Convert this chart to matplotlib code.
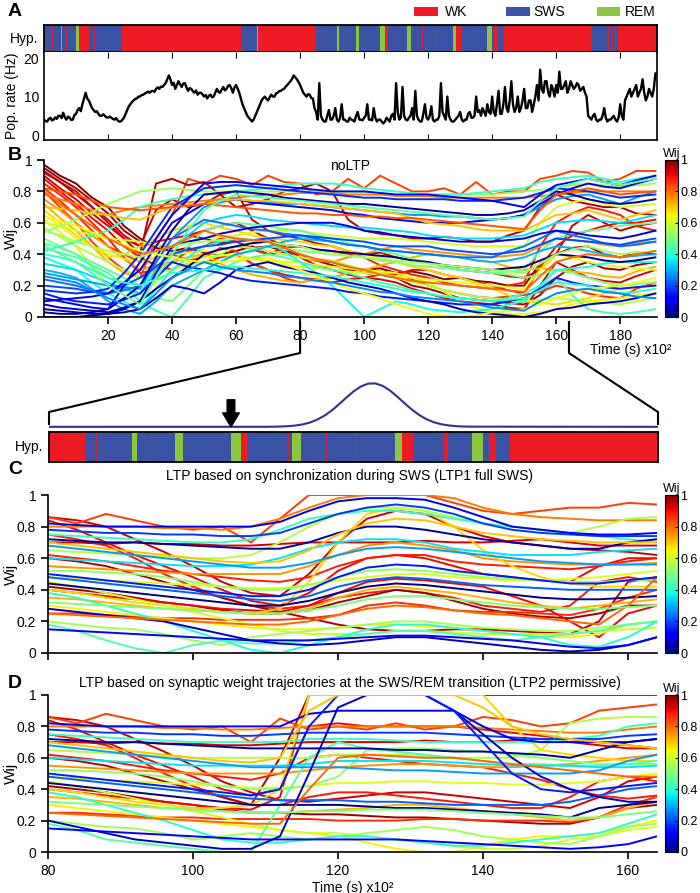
import numpy as np
import matplotlib
matplotlib.use('Agg')
import matplotlib.pyplot as plt
from matplotlib.lines import Line2D
from matplotlib.patches import Rectangle
from matplotlib import cm, colors

plt.rcParams['font.family'] = ['Liberation Sans', 'DejaVu Sans']
plt.rcParams['axes.linewidth'] = 1.2

# ---------------- data ----------------
stage_names = ['WK', 'SWS', 'REM']
stage_colors = ['#ed1c24', '#3a53a4', '#8cc63f']

hyp_start = [0, 10, 11, 14, 24.3, 61.5, 66.5, 67, 85, 91.4, 92.1, 97.4, 98.5, 105.1, 106.5,
             107.5, 113.5, 114.7, 127.7, 128.7, 130.2, 134.5, 135, 138.3, 139.9, 140.7,
             141.7, 143.6, 171, 179.4, 191]
hyp_end = [10, 11, 14, 24.3, 61.5, 66.5, 67, 85, 91.4, 92.1, 97.4, 98.5, 105.1, 106.5, 107.5,
           113.5, 114.7, 127.7, 128.7, 130.2, 134.5, 135, 138.3, 139.9, 140.7, 141.7,
           143.6, 171, 179.4, 191, 191.5]
hyp_state = ['SWS', 'REM', 'WK', 'SWS', 'WK', 'SWS', 'REM', 'WK', 'SWS', 'REM', 'SWS', 'REM',
             'SWS', 'REM', 'WK', 'SWS', 'REM', 'SWS', 'REM', 'WK', 'SWS', 'WK', 'SWS', 'REM',
             'SWS', 'WK', 'SWS', 'WK', 'SWS', 'WK', 'SWS']
mark_time = [2.5, 5.3, 7.0, 15.7, 86.5, 94.0, 112.9, 116.4, 118.2, 122.2, 176.3, 177.5, 178.3]
mark_state = ['WK', 'REM', 'WK', 'WK', 'WK', 'WK', 'WK', 'WK', 'WK', 'WK', 'WK', 'WK', 'WK']

# population rate, sampled every 0.5 (x10^2 s) from 0 to 191
pop_rate = [4, 3.6, 3.5, 4.2, 4.5, 3.8, 4, 4.6, 4.2, 5, 5, 4.4, 5.8, 4.6, 4, 4.8, 4.5, 3.9, 4, 5.2,
            5.5, 6.5, 7, 6.2, 8, 9.5, 11, 9.5, 9, 8, 7, 6.5, 6, 6.2, 5.5, 5, 5, 5.4, 5, 4.6,
            4.5, 4.8, 4.5, 4.2, 4, 4.4, 3.8, 3.5, 3.5, 4, 4.5, 5.5, 6.5, 7.5, 8, 8.6, 9, 9.4, 9.5, 10,
            10, 10.4, 10.5, 10.8, 11, 11.3, 11, 11.4, 11.5, 11.2, 12, 12.4, 12, 12.6, 12.5, 13, 13.5, 14.5, 15.5, 14.5,
            13, 13.6, 12, 13, 14, 13.2, 12.5, 13.4, 13.5, 12.4, 11.5, 12.2, 12, 11.4, 11, 11.6, 10.5, 11, 11, 10.6,
            10, 10.4, 9.5, 10.2, 10.5, 9.8, 10, 11, 12, 11.2, 11, 11.8, 12.5, 11.6, 12, 12.8, 13, 12.2, 11, 12.4,
            13, 12, 11, 9.5, 8, 7, 6, 5, 4.5, 4, 3.5, 4, 5, 6, 7, 8, 9, 9.6, 10, 9.4,
            9, 9.8, 10.5, 10, 10, 10.8, 11, 11.4, 11.5, 11.8, 12, 12.6, 13, 13.5, 14, 14.6, 15.5, 15, 14.5, 13.8,
            13, 12, 11, 10.5, 10, 10.6, 10.5, 9.6, 9.5, 7, 6, 4, 13.5, 5, 4, 3.5, 3.5, 5, 6.5, 4,
            4, 5, 7, 4, 3.5, 4.5, 8, 4, 4, 3.5, 3.5, 4.5, 4, 3.8, 3.5, 5, 6, 4, 4, 3.8,
            4.5, 5, 8, 4, 4, 3.8, 7, 4.5, 3.5, 4, 4, 3.5, 3, 3.5, 4.5, 4, 3.5, 5, 5.5, 4,
            13.5, 6, 4, 4.5, 12.5, 5, 4, 3.8, 4.5, 5, 7, 4, 11.5, 5, 4, 3.5, 3.5, 5.5, 8, 4.5,
            4, 5, 7.5, 4, 3.5, 4, 4, 5, 13.5, 6, 5, 4, 10, 5, 4, 3.5, 3.5, 4, 4.5, 5,
            6, 4, 3.5, 4, 4, 5.5, 6, 4.5, 4.5, 5, 10, 6, 6.5, 5, 7, 6, 5, 8, 6, 5.5,
            10, 6, 5, 8, 11.5, 5.5, 5.5, 8, 12.5, 7, 6, 9, 14, 8, 6, 7, 10, 6, 7, 9,
            12, 7, 7, 9, 9, 6, 8, 10, 13, 9, 17, 12, 11, 14, 14, 11, 10, 13, 12, 10,
            13, 11, 16.5, 12, 12, 13, 14, 11, 12, 14, 13, 12, 12.5, 13.5, 13, 11.5, 12, 12.5, 11, 10,
            5, 4.5, 4, 5, 5.5, 4, 3.5, 4, 4, 5, 7, 4.5, 3.5, 4, 4, 4.5, 5, 4, 3.5, 4.5,
            8, 5, 4, 9, 10, 11, 12, 10, 11, 12, 13, 10, 11, 12, 14.5, 11, 9, 10, 12, 11,
            10, 12, 16]
pop_time = np.arange(len(pop_rate)) * 0.5

# panel B: noLTP synaptic weights (percent), sampled every 5 (last at 191)
b_time = list(range(0, 186, 5)) + [191]
b_color = [1.0, 0.97, 0.93, 0.9, 0.88, 0.86, 0.84, 0.95, 0.92, 0.78, 0.75, 0.72, 0.68, 0.65,
           0.62, 0.6, 0.57, 0.54, 0.5, 0.47, 0.44, 0.42, 0.38, 0.34, 0.3, 0.28, 0.24, 0.2,
           0.17, 0.15, 0.1, 0.08, 0.05, 0.03, 0.0, 0.12, 0.55, 0.7, 0.4, 0.82, 0.64, 0.46,
           0.26, 0.8]
b_wij = [
    [97, 90, 85, 76, 70, 58, 50, 44, 42, 44, 41, 40, 42, 45, 40, 41, 38, 36, 35, 32, 30, 31, 28, 29, 27, 24, 25, 23, 22, 20, 20, 34, 40, 44, 45, 40, 38, 41, 40],
    [95, 88, 82, 74, 66, 55, 48, 46, 44, 52, 50, 47, 48, 44, 45, 42, 40, 36, 33, 30, 28, 27, 25, 20, 18, 15, 12, 11, 10, 9, 8, 14, 25, 32, 35, 31, 30, 33, 35],
    [92, 86, 80, 70, 62, 52, 45, 68, 75, 70, 72, 78, 80, 62, 55, 52, 50, 47, 45, 42, 40, 41, 38, 36, 35, 32, 30, 29, 28, 26, 25, 30, 40, 58, 65, 60, 55, 58, 60],
    [88, 80, 72, 63, 55, 45, 38, 33, 30, 34, 35, 38, 40, 34, 30, 27, 25, 24, 22, 24, 25, 27, 27, 30, 30, 27, 25, 22, 20, 17, 15, 32, 45, 52, 55, 58, 60, 60, 62],
    [85, 78, 70, 60, 50, 38, 28, 30, 35, 42, 45, 50, 48, 43, 40, 44, 45, 43, 42, 40, 38, 33, 30, 27, 25, 22, 20, 19, 18, 20, 22, 45, 60, 66, 70, 68, 65, 58, 55],
    [82, 74, 65, 55, 45, 40, 35, 38, 40, 36, 38, 44, 42, 34, 30, 25, 22, 24, 25, 28, 30, 29, 28, 24, 20, 17, 15, 13, 12, 13, 14, 16, 20, 18, 15, 13, 12, 18, 22],
    [80, 70, 60, 48, 38, 30, 25, 50, 65, 88, 85, 90, 88, 84, 90, 86, 85, 78, 80, 88, 82, 90, 85, 80, 80, 82, 78, 86, 78, 80, 80, 88, 90, 93, 92, 86, 88, 93, 93],
    [93, 86, 78, 70, 60, 50, 40, 85, 88, 84, 86, 78, 70, 72, 75, 80, 82, 85, 80, 62, 55, 53, 52, 50, 50, 51, 50, 48, 48, 52, 55, 70, 78, 74, 72, 70, 70, 66, 65],
    [90, 82, 75, 66, 58, 50, 45, 48, 50, 52, 55, 58, 60, 55, 50, 45, 38, 33, 30, 27, 25, 24, 22, 18, 15, 12, 10, 9, 8, 6, 5, 20, 35, 30, 25, 23, 22, 26, 30],
    [78, 75, 72, 68, 65, 68, 70, 71, 72, 73, 74, 75, 76, 77, 78, 78, 79, 79, 79, 78, 78, 78, 77, 77, 77, 76, 76, 76, 76, 76, 76, 77, 78, 79, 80, 80, 80, 80, 80],
    [75, 68, 60, 52, 45, 37, 30, 33, 35, 38, 40, 43, 45, 44, 42, 40, 38, 36, 35, 38, 40, 43, 45, 43, 42, 41, 40, 39, 38, 39, 40, 45, 50, 49, 48, 46, 45, 47, 48],
    [72, 63, 55, 45, 35, 28, 25, 30, 35, 38, 40, 34, 30, 27, 25, 23, 22, 24, 25, 28, 30, 33, 35, 38, 40, 39, 38, 36, 35, 32, 30, 31, 30, 29, 28, 26, 25, 29, 32],
    [68, 60, 52, 45, 38, 40, 45, 50, 55, 58, 60, 57, 55, 52, 50, 49, 48, 46, 45, 42, 40, 38, 35, 32, 30, 27, 25, 22, 18, 14, 10, 9, 8, 10, 12, 15, 18, 19, 20],
    [65, 58, 50, 45, 40, 37, 35, 38, 40, 41, 42, 40, 38, 37, 36, 35, 35, 33, 32, 31, 30, 29, 28, 25, 22, 16, 10, 6, 3, 2, 2, 3, 5, 8, 10, 11, 12, 14, 15],
    [62, 54, 45, 32, 20, 17, 15, 22, 30, 34, 38, 39, 40, 37, 35, 33, 32, 31, 30, 29, 28, 27, 26, 25, 24, 23, 22, 21, 20, 19, 18, 30, 40, 38, 35, 33, 32, 31, 30],
    [60, 58, 55, 52, 50, 49, 48, 46, 45, 48, 50, 51, 52, 54, 55, 55, 55, 53, 52, 51, 50, 50, 50, 49, 48, 47, 46, 45, 45, 45, 45, 60, 70, 73, 75, 72, 70, 71, 72],
    [57, 51, 45, 40, 35, 30, 25, 28, 30, 33, 35, 40, 45, 44, 42, 40, 38, 37, 36, 33, 30, 28, 25, 22, 20, 17, 15, 13, 12, 11, 10, 11, 12, 11, 10, 9, 8, 10, 12],
    [54, 58, 62, 67, 72, 76, 80, 81, 82, 81, 80, 80, 80, 80, 80, 80, 80, 80, 80, 80, 79, 79, 78, 78, 78, 78, 78, 78, 78, 79, 80, 81, 82, 84, 85, 84, 83, 84, 85],
    [50, 45, 40, 32, 25, 20, 15, 12, 10, 20, 30, 35, 40, 43, 45, 44, 42, 41, 40, 39, 38, 36, 35, 33, 32, 31, 30, 29, 28, 27, 25, 27, 30, 28, 25, 22, 20, 21, 22],
    [47, 44, 40, 35, 30, 25, 20, 28, 35, 45, 55, 58, 60, 59, 58, 56, 55, 52, 50, 47, 45, 42, 40, 37, 35, 32, 30, 29, 28, 29, 30, 42, 50, 53, 55, 56, 58, 59, 60],
    [44, 41, 38, 33, 28, 20, 10, 4, 0, 12, 25, 30, 35, 38, 40, 38, 35, 32, 30, 28, 25, 22, 20, 17, 15, 13, 12, 11, 10, 12, 15, 20, 25, 14, 5, 3, 2, 3, 5],
    [42, 45, 48, 52, 55, 62, 70, 73, 75, 77, 78, 79, 80, 81, 82, 84, 85, 85, 85, 84, 82, 81, 80, 79, 78, 78, 78, 79, 80, 81, 82, 86, 88, 89, 90, 88, 86, 88, 90],
    [38, 34, 30, 22, 15, 10, 5, 18, 30, 38, 45, 48, 50, 49, 48, 42, 35, 28, 20, 10, 0, 5, 10, 8, 5, 4, 3, 4, 5, 8, 10, 20, 30, 31, 32, 34, 35, 35, 35],
    [34, 32, 30, 26, 22, 18, 15, 30, 45, 52, 60, 63, 65, 64, 62, 61, 60, 59, 58, 57, 57, 56, 55, 54, 52, 51, 50, 50, 50, 51, 52, 56, 60, 61, 62, 61, 60, 62, 65],
    [30, 28, 25, 18, 10, 5, 2, 10, 20, 25, 30, 35, 40, 42, 45, 48, 50, 49, 48, 46, 45, 43, 42, 41, 40, 39, 38, 36, 35, 36, 38, 42, 45, 44, 42, 40, 38, 39, 40],
    [28, 26, 24, 22, 20, 19, 18, 35, 50, 60, 70, 73, 75, 74, 73, 72, 72, 71, 70, 69, 68, 67, 66, 65, 65, 64, 64, 63, 62, 63, 65, 70, 75, 77, 78, 75, 72, 76, 80],
    [24, 22, 20, 17, 15, 17, 20, 35, 50, 56, 62, 60, 58, 56, 55, 53, 52, 50, 48, 46, 45, 43, 42, 41, 40, 39, 38, 38, 38, 42, 45, 50, 55, 52, 50, 47, 45, 46, 48],
    [20, 19, 18, 16, 15, 20, 25, 32, 40, 43, 45, 46, 48, 49, 50, 51, 52, 51, 50, 49, 48, 46, 45, 45, 45, 43, 42, 41, 40, 41, 42, 46, 50, 49, 48, 47, 46, 48, 50],
    [17, 16, 15, 16, 18, 28, 40, 55, 70, 76, 82, 83, 84, 83, 82, 81, 80, 79, 78, 77, 76, 76, 75, 75, 75, 75, 74, 74, 74, 75, 76, 79, 82, 81, 80, 78, 76, 77, 78],
    [15, 12, 10, 9, 8, 11, 15, 25, 35, 32, 30, 28, 25, 23, 22, 21, 20, 19, 18, 16, 15, 13, 12, 11, 10, 9, 8, 8, 8, 10, 12, 18, 25, 22, 20, 19, 18, 19, 20],
    [10, 11, 12, 13, 15, 22, 30, 45, 60, 66, 72, 74, 75, 73, 72, 71, 70, 69, 68, 66, 65, 63, 62, 61, 60, 60, 60, 61, 62, 63, 65, 72, 78, 82, 85, 83, 82, 85, 88],
    [8, 6, 5, 4, 3, 6, 10, 28, 45, 48, 50, 53, 55, 57, 58, 59, 60, 60, 60, 58, 55, 54, 52, 51, 50, 49, 48, 48, 48, 49, 50, 53, 55, 54, 52, 51, 50, 52, 55],
    [5, 4, 3, 2, 2, 3, 5, 12, 20, 18, 15, 22, 30, 33, 35, 32, 30, 28, 25, 22, 20, 18, 15, 12, 10, 8, 5, 3, 2, 1, 0, 2, 5, 6, 8, 9, 10, 12, 15],
    [3, 2, 2, 3, 5, 12, 20, 38, 55, 68, 78, 79, 80, 79, 78, 76, 75, 74, 73, 72, 72, 71, 70, 69, 68, 67, 66, 65, 65, 66, 68, 74, 80, 78, 75, 73, 72, 73, 75],
    [0, 0, 0, 1, 2, 5, 10, 18, 25, 32, 40, 43, 45, 47, 48, 46, 45, 43, 42, 41, 40, 39, 38, 36, 35, 33, 32, 31, 30, 31, 32, 36, 40, 39, 38, 36, 35, 36, 38],
    [12, 10, 8, 6, 5, 20, 35, 50, 65, 75, 85, 86, 86, 85, 84, 83, 82, 81, 80, 80, 80, 79, 78, 78, 78, 77, 76, 75, 74, 72, 70, 78, 84, 86, 88, 86, 84, 87, 90],
    [55, 52, 48, 45, 42, 40, 38, 42, 45, 47, 48, 49, 50, 49, 48, 46, 45, 42, 40, 39, 38, 37, 36, 35, 34, 33, 32, 31, 30, 29, 28, 34, 40, 43, 45, 42, 40, 41, 42],
    [70, 69, 68, 66, 65, 63, 62, 66, 70, 71, 72, 74, 75, 74, 74, 73, 72, 71, 70, 69, 68, 67, 66, 63, 60, 59, 58, 56, 55, 55, 55, 60, 65, 66, 68, 65, 62, 65, 68],
    [40, 38, 35, 30, 25, 22, 20, 24, 28, 29, 30, 31, 32, 31, 30, 29, 28, 27, 26, 24, 22, 20, 18, 16, 15, 13, 12, 11, 10, 11, 12, 17, 22, 21, 20, 17, 15, 16, 18],
    [82, 80, 78, 74, 70, 69, 68, 69, 70, 71, 72, 71, 70, 69, 68, 67, 66, 66, 65, 65, 64, 64, 63, 63, 62, 61, 60, 59, 58, 57, 56, 68, 78, 80, 82, 80, 78, 79, 80],
    [64, 61, 58, 54, 50, 46, 42, 40, 38, 36, 35, 35, 36, 37, 38, 34, 30, 26, 22, 18, 15, 12, 8, 5, 2, 1, 0, 1, 3, 4, 5, 8, 12, 15, 18, 19, 20, 22, 25],
    [46, 40, 35, 28, 20, 14, 8, 25, 40, 55, 68, 74, 78, 77, 76, 75, 74, 73, 72, 71, 70, 69, 68, 67, 66, 65, 64, 63, 62, 63, 64, 74, 82, 85, 88, 86, 84, 86, 88],
    [26, 24, 22, 17, 12, 8, 5, 15, 25, 30, 35, 32, 30, 29, 28, 26, 25, 23, 22, 20, 18, 16, 15, 13, 12, 11, 10, 8, 6, 5, 4, 10, 15, 17, 18, 16, 15, 13, 12],
    [80, 72, 65, 58, 50, 45, 40, 42, 45, 50, 55, 52, 50, 49, 48, 44, 40, 37, 35, 32, 30, 27, 25, 23, 22, 21, 20, 19, 18, 17, 16, 26, 35, 38, 40, 39, 38, 40, 42],
]

# panels C and D: sampled every 4 between 80 and 164
cd_time = list(range(80, 165, 4))
cd_color = [0.93, 0.9, 0.88, 0.97, 0.95, 0.86, 0.84, 0.92, 0.9, 0.88, 0.78, 0.75, 0.72, 0.68,
            0.65, 0.62, 0.6, 0.55, 0.52, 0.57, 0.45, 0.42, 0.4, 0.35, 0.28, 0.22, 0.18, 0.1,
            0.06, 0.03, 0.0, 0.12, 0.8, 0.5, 0.15, 0.7]
c_wij = [
    [86, 84, 80, 72, 64, 55, 45, 38, 36, 50, 70, 85, 90, 88, 80, 74, 70, 68, 66, 65, 64, 62],
    [84, 78, 70, 62, 55, 48, 40, 33, 30, 38, 52, 60, 62, 60, 55, 50, 48, 46, 45, 55, 60, 60],
    [75, 72, 68, 60, 50, 42, 35, 30, 28, 30, 35, 38, 40, 38, 35, 30, 28, 26, 30, 45, 48, 45],
    [42, 40, 38, 35, 32, 30, 27, 25, 25, 27, 32, 36, 40, 38, 33, 28, 25, 23, 22, 25, 30, 30],
    [60, 58, 55, 50, 45, 40, 35, 30, 26, 22, 18, 15, 14, 14, 15, 15, 14, 13, 12, 20, 45, 48],
    [25, 25, 24, 23, 22, 22, 21, 21, 21, 22, 24, 30, 32, 30, 27, 26, 26, 25, 24, 28, 35, 40],
    [86, 82, 88, 84, 80, 78, 80, 70, 85, 100, 100, 100, 100, 100, 95, 90, 88, 90, 92, 92, 95, 94],
    [70, 70, 69, 70, 69, 69, 68, 68, 69, 70, 70, 70, 70, 71, 70, 70, 71, 72, 70, 68, 68, 68],
    [40, 38, 36, 34, 32, 30, 28, 27, 26, 30, 38, 45, 47, 46, 44, 42, 36, 30, 20, 10, 25, 30],
    [62, 60, 58, 55, 52, 50, 48, 46, 45, 48, 55, 60, 62, 62, 58, 56, 55, 54, 53, 55, 58, 60],
    [80, 80, 80, 80, 79, 79, 78, 80, 85, 92, 98, 100, 100, 100, 98, 92, 88, 86, 85, 84, 84, 84],
    [55, 54, 53, 52, 51, 50, 50, 50, 50, 55, 62, 68, 70, 68, 65, 60, 58, 57, 56, 56, 56, 57],
    [35, 34, 32, 30, 28, 27, 26, 25, 25, 28, 35, 40, 42, 40, 38, 35, 32, 30, 28, 30, 32, 34],
    [40, 38, 35, 32, 30, 28, 26, 25, 28, 45, 70, 88, 92, 90, 80, 65, 55, 48, 44, 42, 42, 42],
    [30, 28, 26, 24, 22, 20, 18, 16, 15, 15, 16, 18, 18, 17, 16, 14, 12, 10, 10, 12, 18, 20],
    [48, 47, 46, 45, 44, 43, 42, 41, 41, 43, 46, 48, 50, 50, 48, 47, 46, 46, 47, 48, 50, 52],
    [45, 42, 38, 34, 30, 26, 22, 18, 14, 12, 12, 12, 14, 14, 13, 12, 12, 12, 12, 14, 15, 16],
    [20, 18, 16, 15, 12, 8, 5, 10, 12, 14, 16, 18, 20, 20, 18, 16, 15, 14, 14, 16, 18, 20],
    [52, 52, 51, 50, 48, 45, 42, 40, 40, 43, 48, 52, 53, 52, 50, 48, 47, 46, 45, 45, 46, 46],
    [65, 64, 63, 62, 61, 60, 60, 62, 70, 80, 88, 92, 92, 90, 86, 82, 80, 78, 76, 80, 85, 86],
    [18, 14, 8, 3, 0, 5, 8, 6, 6, 8, 10, 12, 14, 14, 12, 10, 8, 10, 12, 14, 18, 20],
    [75, 74, 73, 72, 71, 70, 70, 72, 78, 85, 88, 90, 90, 88, 85, 82, 80, 78, 76, 74, 72, 70],
    [38, 35, 30, 25, 20, 14, 8, 2, 0, 5, 10, 15, 18, 18, 16, 14, 12, 10, 5, 4, 10, 20],
    [60, 59, 58, 57, 56, 55, 55, 56, 60, 66, 70, 72, 72, 70, 66, 64, 62, 62, 62, 64, 65, 66],
    [68, 66, 64, 62, 60, 58, 56, 54, 54, 57, 62, 66, 67, 66, 64, 62, 60, 58, 57, 56, 56, 56],
    [48, 46, 44, 42, 40, 38, 36, 34, 33, 36, 42, 46, 48, 47, 45, 43, 42, 41, 40, 40, 40, 40],
    [78, 77, 76, 76, 75, 75, 74, 74, 76, 82, 88, 92, 94, 92, 88, 82, 78, 76, 75, 74, 74, 74],
    [82, 81, 80, 80, 80, 80, 80, 80, 83, 90, 96, 98, 98, 97, 92, 86, 80, 78, 76, 75, 75, 76],
    [28, 26, 24, 22, 20, 16, 12, 8, 6, 5, 6, 8, 10, 10, 8, 6, 4, 2, 1, 2, 5, 10],
    [72, 71, 70, 70, 69, 68, 67, 66, 66, 70, 76, 80, 80, 78, 75, 72, 70, 68, 66, 66, 70, 72],
    [44, 42, 40, 38, 36, 34, 32, 30, 30, 33, 38, 42, 44, 43, 41, 39, 37, 35, 34, 34, 35, 36],
    [15, 14, 13, 12, 11, 10, 9, 8, 8, 8, 9, 10, 11, 11, 10, 9, 8, 6, 4, 3, 5, 10],
    [25, 24, 23, 22, 21, 20, 19, 18, 18, 20, 24, 28, 30, 29, 27, 25, 24, 22, 20, 18, 30, 48],
    [32, 31, 30, 29, 28, 27, 26, 25, 25, 27, 30, 34, 36, 36, 34, 32, 30, 29, 28, 28, 29, 30],
    [50, 48, 46, 44, 42, 40, 38, 36, 36, 40, 48, 54, 56, 55, 52, 50, 48, 46, 44, 44, 46, 48],
    [70, 68, 66, 64, 62, 60, 58, 57, 58, 65, 75, 82, 85, 84, 80, 76, 74, 72, 71, 70, 70, 70],
]
d_wij = [
    [86, 84, 80, 72, 64, 55, 45, 38, 33, 32, 34, 36, 38, 38, 36, 34, 32, 30, 28, 35, 45, 48],
    [84, 78, 70, 62, 55, 48, 40, 36, 40, 80, 82, 80, 80, 80, 80, 78, 76, 74, 72, 70, 68, 66],
    [75, 72, 68, 60, 50, 42, 35, 30, 30, 35, 38, 38, 36, 34, 32, 30, 28, 28, 35, 45, 48, 45],
    [42, 40, 38, 35, 32, 30, 27, 25, 25, 24, 24, 23, 22, 22, 21, 20, 19, 18, 18, 22, 28, 30],
    [60, 58, 55, 50, 45, 40, 35, 30, 60, 100, 100, 100, 100, 100, 100, 100, 100, 100, 100, 100, 100, 100],
    [25, 25, 24, 23, 22, 22, 21, 21, 21, 21, 20, 20, 20, 21, 21, 20, 20, 20, 19, 22, 30, 35],
    [86, 82, 88, 84, 80, 78, 80, 70, 85, 78, 80, 78, 82, 78, 80, 86, 84, 80, 82, 90, 92, 94],
    [70, 70, 69, 70, 69, 69, 68, 68, 69, 70, 70, 70, 70, 71, 70, 70, 71, 72, 70, 68, 66, 66],
    [40, 38, 36, 34, 32, 30, 28, 27, 35, 100, 100, 100, 100, 100, 100, 100, 100, 100, 100, 100, 100, 100],
    [62, 60, 58, 55, 52, 50, 48, 46, 50, 60, 62, 60, 58, 56, 55, 54, 50, 46, 40, 36, 34, 36],
    [80, 80, 80, 80, 79, 79, 78, 78, 79, 80, 80, 80, 80, 80, 80, 79, 78, 77, 76, 76, 78, 80],
    [55, 54, 53, 52, 51, 50, 50, 50, 50, 52, 54, 55, 56, 56, 55, 54, 54, 55, 56, 58, 60, 62],
    [35, 34, 32, 30, 28, 27, 26, 25, 25, 26, 27, 28, 30, 30, 28, 26, 24, 22, 20, 22, 28, 32],
    [40, 38, 35, 32, 30, 28, 28, 30, 40, 100, 100, 100, 100, 100, 100, 100, 80, 65, 62, 60, 58, 58],
    [30, 28, 26, 24, 22, 20, 18, 16, 14, 12, 10, 6, 2, 0, 0, 4, 8, 10, 10, 12, 16, 20],
    [48, 47, 46, 45, 44, 43, 42, 41, 41, 42, 44, 44, 45, 45, 44, 44, 43, 43, 44, 45, 48, 50],
    [45, 42, 38, 34, 30, 26, 22, 18, 14, 12, 12, 10, 8, 6, 4, 2, 2, 4, 8, 10, 14, 16],
    [20, 18, 16, 15, 12, 8, 10, 12, 10, 8, 10, 12, 14, 16, 14, 10, 8, 6, 5, 10, 16, 18],
    [52, 52, 51, 50, 48, 45, 42, 40, 40, 42, 48, 65, 66, 66, 65, 64, 62, 60, 58, 56, 56, 56],
    [65, 64, 63, 62, 61, 60, 60, 60, 60, 60, 62, 62, 62, 61, 60, 60, 60, 65, 82, 85, 86, 86],
    [18, 14, 8, 6, 4, 2, 0, 0, 30, 60, 70, 66, 64, 62, 60, 58, 56, 56, 55, 55, 56, 58],
    [75, 74, 73, 72, 71, 70, 70, 70, 70, 72, 72, 72, 71, 70, 70, 70, 70, 70, 72, 74, 80, 82],
    [38, 35, 30, 25, 20, 14, 8, 6, 6, 8, 10, 10, 8, 6, 4, 4, 6, 8, 10, 12, 18, 24],
    [60, 59, 58, 57, 56, 55, 55, 55, 55, 56, 58, 58, 58, 58, 57, 56, 55, 55, 55, 54, 54, 55],
    [68, 66, 64, 62, 60, 58, 56, 54, 54, 54, 54, 53, 52, 52, 51, 50, 50, 50, 50, 52, 58, 62],
    [48, 46, 44, 42, 40, 38, 36, 34, 33, 33, 33, 32, 32, 31, 30, 30, 30, 30, 32, 36, 40, 42],
    [78, 77, 76, 76, 75, 75, 74, 74, 75, 76, 76, 76, 76, 76, 75, 74, 73, 72, 72, 72, 74, 75],
    [82, 81, 80, 80, 80, 80, 80, 80, 80, 88, 90, 90, 90, 90, 90, 80, 72, 70, 70, 70, 70, 72],
    [20, 16, 12, 8, 6, 4, 2, 2, 10, 50, 92, 100, 100, 100, 90, 75, 60, 48, 40, 35, 32, 32],
    [72, 71, 70, 70, 69, 68, 67, 66, 66, 66, 66, 66, 65, 65, 64, 64, 63, 62, 60, 65, 70, 72],
    [44, 42, 40, 38, 36, 34, 32, 30, 30, 30, 30, 29, 28, 28, 27, 26, 25, 24, 22, 28, 30, 32],
    [15, 14, 13, 12, 11, 10, 9, 8, 8, 8, 8, 8, 8, 7, 6, 5, 4, 3, 2, 3, 5, 10],
    [25, 24, 23, 22, 21, 20, 19, 18, 18, 40, 60, 62, 61, 60, 60, 58, 56, 54, 52, 50, 48, 48],
    [32, 31, 30, 29, 28, 27, 26, 25, 25, 26, 26, 27, 27, 27, 26, 25, 24, 23, 22, 22, 24, 26],
    [50, 48, 46, 44, 42, 40, 38, 36, 40, 80, 100, 100, 100, 100, 90, 70, 50, 40, 38, 40, 42, 44],
    [70, 68, 66, 64, 62, 60, 58, 57, 60, 90, 100, 100, 100, 100, 100, 92, 80, 75, 72, 70, 68, 66],
]

# LTP window (normalised) over the zoomed interval
win_time = [80, 110, 111, 112, 113, 114, 115, 116, 117, 118, 119, 120, 121, 122, 123, 124, 125,
            126, 127, 128, 129, 130, 131, 132, 133, 134, 135, 136, 137, 138, 164]
win_val = [0, 0.001, 0.003, 0.007, 0.015, 0.03, 0.056, 0.099, 0.165, 0.256, 0.375, 0.516,
           0.667, 0.81, 0.923, 0.989, 0.995, 0.94, 0.835, 0.697, 0.546, 0.402, 0.278, 0.18,
           0.11, 0.063, 0.034, 0.017, 0.008, 0.004, 0]
arrow_time = 105.1
zoom_range = [80, 164]

panel_titles = ['noLTP', 'LTP based on synchronization during SWS (LTP1 full SWS)',
                'LTP based on synaptic weight trajectories at the SWS/REM transition (LTP2 permissive)']
b_xticks = [20, 40, 60, 80, 100, 120, 140, 160, 180]
cd_xticks = [80, 100, 120, 140, 160]
w_ticks = [0, 0.2, 0.4, 0.6, 0.8, 1]
w_ticklabels = ['0', '0.2', '0.4', '0.6', '0.8', '1']

# ---------------- figure ----------------
W, H = 700, 893
fig = plt.figure(figsize=(W / 100, H / 100), dpi=100)


def rect(l, t, r, b):
    return [l / W, 1 - b / H, (r - l) / W, (b - t) / H]


cmap = plt.get_cmap('jet')
state_col = dict(zip(stage_names, stage_colors))
TXT = 10


def place_ylabel(ax, xpix):
    # xpix: right edge (in figure pixels) of the rotated y label
    bb = ax.get_position()
    ax.yaxis.set_label_coords((xpix / W - bb.x0) / bb.width, 0.5)


def draw_hyp(ax, xlim):
    for s, e, st in zip(hyp_start, hyp_end, hyp_state):
        ax.axvspan(s, e, ymin=0, ymax=1, color=state_col[st], lw=0)
    for t, st in zip(mark_time, mark_state):
        ax.axvline(t, color=state_col[st], lw=0.8, alpha=0.8)
    ax.set_xlim(*xlim)
    ax.set_ylim(0, 1)
    ax.set_yticks([])
    ax.set_xticks([])
    for sp in ax.spines.values():
        sp.set_linewidth(1.3)
        sp.set_color('black')
    ax.set_ylabel('Hyp.', rotation=0, ha='right', va='center', fontsize=TXT, labelpad=4)


# --- A: hypnogram
axH = fig.add_axes(rect(44, 25, 657, 52))
draw_hyp(axH, (0, 191.5))

# --- A: population rate
axP = fig.add_axes(rect(44, 52, 657, 140))
axP.plot(pop_time, pop_rate, color='black', lw=1.7)
axP.set_xlim(0, 191.5)
axP.set_ylim(-1.3, 21.6)
axP.set_yticks([0, 10, 20])
axP.set_xticks(b_xticks)
axP.tick_params(axis='x', direction='in', top=True, bottom=True, labelbottom=False, length=4)
axP.tick_params(axis='y', direction='in', length=0, labelsize=TXT)
axP.spines['top'].set_visible(False)
axP.set_ylabel('Pop. rate (Hz)', fontsize=TXT)
place_ylabel(axP, 19)

# legend of states
for (x0, x1, tx), name, col in zip([(414, 438, 445), (506, 530, 533), (597, 620, 625)],
                                   stage_names, stage_colors):
    fig.add_artist(Rectangle((x0 / W, 1 - 16 / H), (x1 - x0) / W, 9 / H,
                             transform=fig.transFigure, color=col, lw=0))
    fig.text(tx / W, 1 - 12 / H, name, fontsize=TXT, ha='left', va='center')

norm = colors.Normalize(0, 1)
sm = cm.ScalarMappable(norm=norm, cmap=cmap)


def wij_axes(ax, xlim, xticks, labels=True):
    ax.set_xlim(*xlim)
    ax.set_ylim(0, 1)
    ax.set_xticks(xticks)
    if not labels:
        ax.set_xticklabels([])
    ax.set_yticks(w_ticks)
    ax.set_yticklabels(w_ticklabels)
    ax.spines['top'].set_visible(False)
    ax.spines['right'].set_visible(False)
    ax.tick_params(direction='out', length=5, width=1.2, labelsize=TXT)
    ax.set_ylabel('Wij', fontsize=11)
    place_ylabel(ax, 18)


def colorbar(l, t, r, b):
    cax = fig.add_axes(rect(l, t, r, b))
    cb = fig.colorbar(sm, cax=cax)
    cb.set_ticks(w_ticks)
    cb.set_ticklabels(w_ticklabels)
    cb.ax.tick_params(labelsize=9, length=2, direction='in', pad=1.5)
    cb.outline.set_linewidth(0.8)
    cax.set_title('Wij', fontsize=9, pad=2)
    return cax


# --- B
axB = fig.add_axes(rect(44, 160, 657, 317))
for c, vals in zip(b_color, b_wij):
    axB.plot(b_time, np.array(vals) / 100, color=cmap(c), lw=1.4)
wij_axes(axB, (0, 191.5), b_xticks)
axB.text(0.5, 0.962, panel_titles[0], transform=axB.transAxes, ha='center', va='center',
         fontsize=TXT)
colorbar(665, 160, 678, 317)
fig.text(672 / W, 1 - 350 / H, 'Time (s) x10²', ha='right', va='center', fontsize=TXT)

# --- LTP window + arrow
axG = fig.add_axes(rect(49, 381, 658, 429))
axG.plot(win_time, win_val, color='#2e3192', lw=1.5)
axG.set_xlim(*zoom_range)
axG.set_ylim(-0.05, 1.05)
axG.axis('off')
axG.annotate('', xy=(arrow_time, 0.0), xytext=(arrow_time, 0.62),
             arrowprops=dict(facecolor='black', edgecolor='black', width=5.5,
                             headwidth=12, headlength=10, shrink=0))

# --- zoomed hypnogram
axZ = fig.add_axes(rect(49, 432, 658, 462))
draw_hyp(axZ, zoom_range)

# zoom connector lines
inv = fig.transFigure.inverted()


def fig_pt(px, py):
    return inv.transform((px, (H - py)))


xl = axB.transData.transform((zoom_range[0], 0))[0]
xr = axB.transData.transform((zoom_range[1], 0))[0]
zl = axZ.transAxes.transform((0, 0))[0]
zr = axZ.transAxes.transform((1, 0))[0]
for x_top, x_bot in [(xl, zl), (xr, zr)]:
    pts = [fig_pt(x_top, 322), fig_pt(x_top, 353), fig_pt(x_bot, 412), fig_pt(x_bot, 424)]
    fig.add_artist(Line2D([p[0] for p in pts], [p[1] for p in pts], color='black', lw=1.5,
                          transform=fig.transFigure))

# --- C
axC = fig.add_axes(rect(48, 495, 657, 653))
for c, vals in zip(cd_color, c_wij):
    axC.plot(cd_time, np.array(vals) / 100, color=cmap(c), lw=1.4)
wij_axes(axC, zoom_range, cd_xticks, labels=False)
fig.text(350 / W, 1 - 476 / H, panel_titles[1], ha='center', va='center', fontsize=TXT)
colorbar(665, 495, 678, 653)

# --- D
axD = fig.add_axes(rect(48, 695, 657, 852))
for c, vals in zip(cd_color, d_wij):
    axD.plot(cd_time, np.array(vals) / 100, color=cmap(c), lw=1.4)
wij_axes(axD, zoom_range, cd_xticks)
fig.text(350 / W, 1 - 683 / H, panel_titles[2], ha='center', va='center', fontsize=TXT)
axD.set_xlabel('Time (s) x10²', fontsize=TXT, labelpad=2)
colorbar(665, 695, 678, 852)

# panel letters
for lab, y in zip(['A', 'B', 'C', 'D'], [12, 155, 470, 683]):
    fig.text(8 / W, 1 - y / H, lab, fontsize=14, fontweight='bold', ha='left', va='center')

fig.savefig('out.png', dpi=100)
